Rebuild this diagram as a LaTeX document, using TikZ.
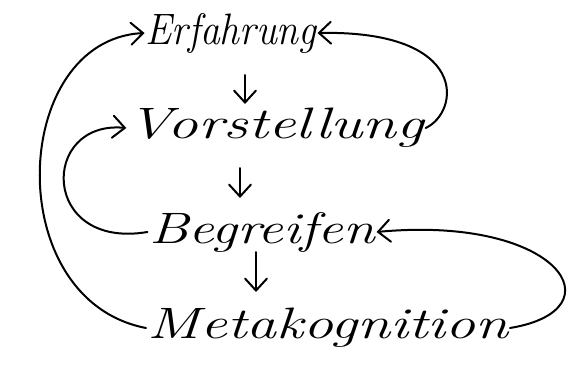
\documentclass[tikz,border=0pt]{standalone}
\usetikzlibrary{arrows.meta}
\begin{document}
\begin{tikzpicture}[x=1pt,y=-1pt,
  word/.style={font=\fontsize{44}{50}\selectfont\itshape, inner sep=1pt},
  link/.style={line width=2pt, line cap=round, -{Straight Barb[length=12pt,width=22pt,line cap=round]}}]
\useasboundingbox (0,0) rectangle (576,383);
\node[word, xscale=0.9, transform shape] (E) at (231,33) {Erfahrung};
\node[word, xscale=1.39, transform shape] (V) at (276,128) {Vorstellung};
\node[word, xscale=1.3, transform shape] (B) at (262,232) {Begreifen};
\node[word, xscale=1.36, transform shape] (M) at (328,328) {Metakognition};
\coordinate (e1) at (245,75); \coordinate (e2) at (245,104);
\coordinate (v1) at (240,168); \coordinate (v2) at (240,198);
\coordinate (b1) at (256,252); \coordinate (b2) at (256,292);
\draw[link] (e1) -- (e2);
\draw[link] (v1) -- (v2);
\draw[link] (b1) -- (b2);
\draw[link] (V.east) .. controls (460,112) and (470,30) .. (E.east);
\draw[link] (B.west) .. controls (40,250) and (40,120) .. (V.west);
\draw[link] (M.east) .. controls (620,310) and (560,215) .. (B.east);
\draw[link] (M.west) .. controls (0,300) and (10,40) .. (E.west);
\end{tikzpicture}
\end{document}
